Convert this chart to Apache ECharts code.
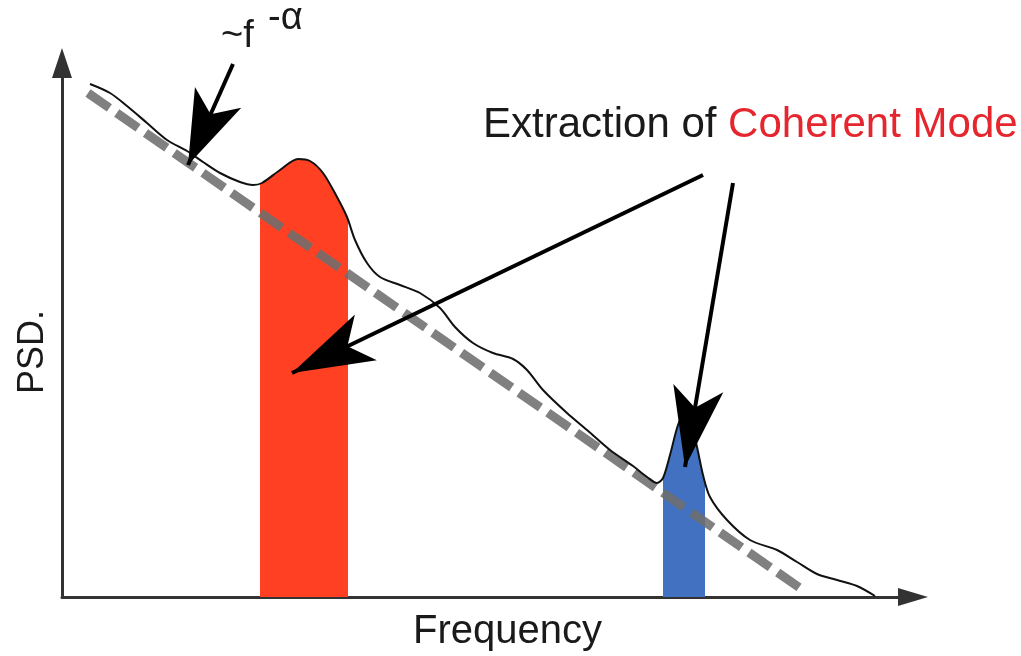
<!DOCTYPE html>
<html>
<head>
<meta charset="utf-8">
<title>PSD - coherent mode</title>
<script src="https://cdn.jsdelivr.net/npm/echarts@6/dist/echarts.min.js"></script>
<style>
  html, body { margin: 0; padding: 0; background: #fff; }
  #main { width: 1021px; height: 656px; }
</style>
</head>
<body>
<div id="main"></div>
<script>
// spectrum, arbitrary units
var freq = [28, 48, 65, 85, 105, 125, 141, 158, 178, 191, 200, 218, 236, 248, 261, 275, 285, 293,
  305, 318, 338, 358, 378, 393, 411, 431, 451, 465, 481, 505, 525, 548, 571, 585, 595, 601, 608,
  616, 622, 628, 635, 641, 648, 665, 688, 715, 735, 755, 775, 795, 813];
var psd = [513, 504, 491, 474, 457, 446, 435, 424, 415, 412, 414, 427, 438, 436, 424, 400, 380, 357,
  334, 320, 312, 304, 289, 270, 254, 244, 238, 227, 207, 184, 167, 147, 131, 120, 114, 119, 142,
  172, 182, 177, 150, 122, 100, 77, 57, 47, 35, 23, 17, 11, 1];

// ~f^-alpha trend
var trendFreq = [26, 738];
var trendPsd = [504, 9];

// highlighted bands
var redBand = [198, 286];
var blueBand = [601, 643];

// annotation arrows
var arrowFrom = [[171, 533], [641, 422], [671, 414]];
var arrowTip = [[126, 432], [230, 224], [623, 130]];
var arrowHead = [[38, 74], [38, 82], [38, 80]];

var FONT = '"Liberation Sans", Arial, Helvetica, sans-serif';

function zip(xs, ys) {
  return xs.map(function (x, i) { return [x, ys[i]]; });
}

var curve = zip(freq, psd);

var arrowLines = arrowFrom.map(function (p, i) {
  return [
    { coord: p, symbol: 'none' },
    { coord: arrowTip[i], symbol: 'arrow', symbolSize: arrowHead[i] }
  ];
});

var chart = echarts.init(document.getElementById('main'));

var option = {
  animation: false,
  backgroundColor: '#fff',
  grid: { left: 62, right: 108, top: 63, bottom: 59, containLabel: false, outerBoundsMode: 'none' },
  xAxis: {
    type: 'value',
    min: 0,
    max: 851,
    name: 'Frequency',
    nameLocation: 'middle',
    nameGap: 15,
    nameTextStyle: { fontSize: 40, color: '#1a1a1a', fontFamily: FONT, padding: [0, 0, 0, 40] },
    axisLine: {
      lineStyle: { color: '#333', width: 3 },
      symbol: ['none', 'triangle'],
      symbolSize: [18, 30]
    },
    axisTick: { show: false },
    axisLabel: { show: false },
    splitLine: { show: false }
  },
  yAxis: {
    type: 'value',
    min: 0,
    max: 534,
    name: 'PSD.',
    nameLocation: 'middle',
    nameRotate: 90,
    nameGap: 11,
    nameTextStyle: { fontSize: 36, color: '#1a1a1a', fontFamily: FONT, padding: [0, 44, 0, 0] },
    axisLine: {
      lineStyle: { color: '#333', width: 3 },
      symbol: ['none', 'triangle'],
      symbolSize: [20, 30]
    },
    axisTick: { show: false },
    axisLabel: { show: false },
    splitLine: { show: false }
  },
  visualMap: {
    type: 'piecewise',
    show: false,
    dimension: 0,
    seriesIndex: 0,
    pieces: [
      { gte: redBand[0], lte: redBand[1], color: '#ff4022' },
      { gte: blueBand[0], lte: blueBand[1], color: '#4171c0' }
    ],
    outOfRange: { color: 'rgba(255,255,255,0)' }
  },
  series: [
    {
      name: 'bands',
      type: 'line',
      data: curve,
      smooth: 0.3,
      symbol: 'none',
      silent: true,
      z: 2,
      lineStyle: { opacity: 0 },
      areaStyle: { opacity: 1 }
    },
    {
      name: 'trend',
      type: 'line',
      data: zip(trendFreq, trendPsd),
      symbol: 'none',
      silent: true,
      z: 3,
      lineStyle: { color: 'rgba(110,110,110,0.88)', width: 9, type: [26, 9], cap: 'butt' }
    },
    {
      name: 'PSD',
      type: 'line',
      data: curve,
      smooth: 0.3,
      symbol: 'none',
      silent: true,
      z: 4,
      lineStyle: { color: '#111', width: 2 },
      markLine: {
        silent: true,
        animation: false,
        label: { show: false },
        emphasis: { disabled: true },
        lineStyle: { color: '#000', width: 4, type: 'solid' },
        data: arrowLines
      }
    }
  ],
  graphic: [
    {
      type: 'text', x: 221, y: 37, z: 10,
      style: { text: '~f', font: '38px ' + FONT, fill: '#1a1a1a', verticalAlign: 'middle' }
    },
    {
      type: 'text', x: 268, y: 19, z: 10,
      style: { text: '-α', font: '38px ' + FONT, fill: '#1a1a1a', verticalAlign: 'middle' }
    },
    {
      type: 'text', x: 483, y: 125, z: 10,
      style: {
        text: '{a|Extraction of }{b|Coherent Mode}',
        verticalAlign: 'middle',
        rich: {
          a: { fontSize: 42, fontFamily: FONT, fill: '#1a1a1a' },
          b: { fontSize: 42, fontFamily: FONT, fill: '#e5262e' }
        }
      }
    }
  ]
};

chart.setOption(option);
</script>
</body>
</html>
